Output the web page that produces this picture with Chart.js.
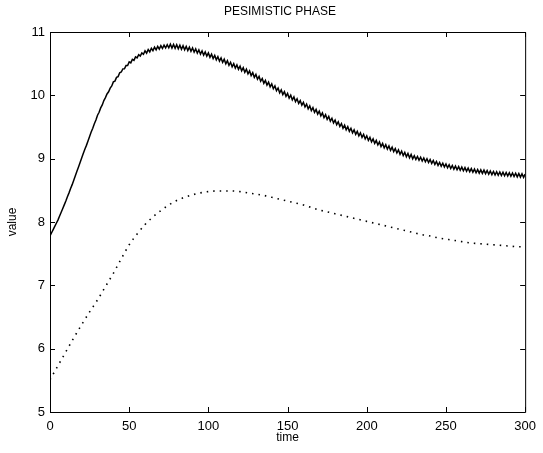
<!DOCTYPE html>
<html>
<head>
<meta charset="utf-8">
<script src="https://cdn.jsdelivr.net/npm/chart.js@4/dist/chart.umd.min.js"></script>
<style>
  html, body { margin: 0; padding: 0; background: #fff; }
  canvas { display: block; }
</style>
</head>
<body>
<canvas id="chart" width="543" height="453"></canvas>
<script>
const titleText = 'PESIMISTIC PHASE';
const xTicks = [0, 50, 100, 150, 200, 250, 300];
const yTicks = [5, 6, 7, 8, 9, 10, 11];

// solid curve, one reading per time unit (0..300)
const solidValue = [
  7.78, 7.83, 7.88, 7.93, 7.98, 8.03, 8.09, 8.15, 8.21, 8.27,
  8.33, 8.40, 8.46, 8.53, 8.59, 8.66, 8.73, 8.80, 8.87, 8.94,
  9.01, 9.08, 9.15, 9.21, 9.28, 9.35, 9.42, 9.48, 9.55, 9.61,
  9.686, 9.732, 9.802, 9.848, 9.918, 9.964, 10.022, 10.056, 10.114, 10.148,
  10.212, 10.224, 10.284, 10.296, 10.356, 10.368, 10.418, 10.420, 10.470, 10.472,
  10.528, 10.512, 10.568, 10.552, 10.608, 10.592, 10.642, 10.620, 10.670, 10.648,
  10.704, 10.666, 10.724, 10.686, 10.744, 10.706, 10.760, 10.718, 10.772, 10.730,
  10.784, 10.740, 10.792, 10.748, 10.800, 10.750, 10.808, 10.746, 10.804, 10.742,
  10.800, 10.736, 10.792, 10.728, 10.784, 10.720, 10.774, 10.708, 10.762, 10.696,
  10.750, 10.682, 10.734, 10.666, 10.718, 10.650, 10.702, 10.634, 10.686, 10.618,
  10.670, 10.600, 10.650, 10.580, 10.630, 10.560, 10.610, 10.540, 10.590, 10.520,
  10.570, 10.498, 10.546, 10.474, 10.522, 10.450, 10.500, 10.430, 10.480, 10.410,
  10.460, 10.388, 10.436, 10.364, 10.412, 10.340, 10.386, 10.312, 10.358, 10.284,
  10.330, 10.254, 10.298, 10.222, 10.266, 10.190, 10.236, 10.162, 10.208, 10.134,
  10.180, 10.104, 10.148, 10.072, 10.116, 10.040, 10.086, 10.012, 10.058, 9.984,
  10.030, 9.956, 10.002, 9.928, 9.974, 9.900, 9.946, 9.872, 9.918, 9.844,
  9.890, 9.816, 9.862, 9.788, 9.834, 9.760, 9.806, 9.732, 9.778, 9.704,
  9.750, 9.676, 9.722, 9.648, 9.694, 9.620, 9.666, 9.592, 9.638, 9.564,
  9.610, 9.536, 9.582, 9.508, 9.554, 9.480, 9.528, 9.456, 9.504, 9.432,
  9.480, 9.408, 9.456, 9.384, 9.432, 9.360, 9.408, 9.336, 9.384, 9.312,
  9.360, 9.288, 9.336, 9.264, 9.312, 9.240, 9.288, 9.216, 9.264, 9.192,
  9.240, 9.170, 9.220, 9.150, 9.200, 9.130, 9.180, 9.110, 9.160, 9.090,
  9.140, 9.070, 9.120, 9.050, 9.100, 9.030, 9.082, 9.014, 9.066, 8.998,
  9.047, 8.987, 9.035, 8.975, 9.023, 8.963, 9.011, 8.951, 8.999, 8.939,
  8.987, 8.925, 8.971, 8.909, 8.955, 8.893, 8.941, 8.881, 8.929, 8.869,
  8.917, 8.857, 8.905, 8.845, 8.893, 8.833, 8.883, 8.825, 8.875, 8.817,
  8.867, 8.809, 8.859, 8.801, 8.851, 8.793, 8.843, 8.785, 8.835, 8.777,
  8.827, 8.771, 8.823, 8.767, 8.819, 8.763, 8.813, 8.755, 8.805, 8.747,
  8.797, 8.741, 8.793, 8.737, 8.789, 8.733, 8.785, 8.729, 8.781, 8.725,
  8.777, 8.721, 8.773, 8.717, 8.769, 8.713, 8.765, 8.709, 8.761, 8.705,
  8.757
];
const solidTime = solidValue.map((v, i) => i);

const dottedTime = [
  0, 5, 10, 15, 20, 25, 30, 35, 40, 45,
  50, 55, 60, 65, 70, 75, 80, 85, 90, 95,
  100, 105, 110, 115, 120, 125, 130, 135, 140, 145,
  150, 155, 160, 165, 170, 175, 180, 185, 190, 195,
  200, 205, 210, 215, 220, 225, 230, 235, 240, 245,
  250, 255, 260, 265, 270, 275, 280, 285, 290, 295,
  300
];
const dottedValue = [
  5.51, 5.73, 5.95, 6.17, 6.38, 6.58, 6.77, 6.98, 7.19, 7.42,
  7.64, 7.81, 7.96, 8.08, 8.18, 8.27, 8.34, 8.39, 8.43, 8.46,
  8.48, 8.49, 8.49, 8.49, 8.48, 8.46, 8.44, 8.42, 8.39, 8.36,
  8.33, 8.30, 8.27, 8.23, 8.19, 8.16, 8.13, 8.10, 8.07, 8.04,
  8.01, 7.98, 7.95, 7.92, 7.89, 7.86, 7.83, 7.80, 7.78, 7.75,
  7.73, 7.71, 7.69, 7.67, 7.66, 7.65, 7.64, 7.63, 7.62, 7.61,
  7.61
];

const FONT = '"Liberation Sans", Arial, Helvetica, sans-serif';

// box round the plot plus inward tick marks on all four sides, matlab style
const boxTicks = {
  id: 'boxTicks',
  afterDraw(chart) {
    const { ctx, chartArea: a, scales } = chart;
    const len = 5;
    ctx.save();
    ctx.strokeStyle = '#000';
    ctx.lineWidth = 1;
    ctx.beginPath();
    ctx.rect(a.left + 0.5, a.top + 0.5, a.right - a.left, a.bottom - a.top);
    xTicks.forEach(t => {
      const px = Math.round(scales.x.getPixelForValue(t)) + 0.5;
      ctx.moveTo(px, a.bottom); ctx.lineTo(px, a.bottom - len);
      ctx.moveTo(px, a.top); ctx.lineTo(px, a.top + len);
    });
    yTicks.forEach(v => {
      const py = Math.round(scales.y.getPixelForValue(v)) + 0.5;
      ctx.moveTo(a.left, py); ctx.lineTo(a.left + len, py);
      ctx.moveTo(a.right, py); ctx.lineTo(a.right - len, py);
    });
    ctx.stroke();

    ctx.fillStyle = '#000';
    ctx.font = '12px ' + FONT;
    ctx.textAlign = 'center';
    ctx.textBaseline = 'middle';
    ctx.fillText(titleText, 280, 12);
    ctx.restore();
  }
};

new Chart(document.getElementById('chart'), {
  type: 'line',
  data: {
    datasets: [
      {
        data: solidTime.map((t, i) => ({ x: t, y: solidValue[i] })),
        borderColor: '#000',
        borderWidth: 1.5,
        pointRadius: 0,
        tension: 0
      },
      {
        data: dottedTime.map((t, i) => ({ x: t, y: dottedValue[i] })),
        borderColor: '#000',
        borderWidth: 1.6,
        borderDash: [1.5, 5],
        pointRadius: 0,
        cubicInterpolationMode: 'monotone'
      }
    ]
  },
  options: {
    responsive: false,
    animation: false,
    devicePixelRatio: 1,
    layout: { padding: { top: 32, right: 13, left: 0, bottom: 0 } },
    plugins: {
      legend: { display: false },
      tooltip: { enabled: false }
    },
    scales: {
      x: {
        type: 'linear',
        min: 0,
        max: 300,
        afterBuildTicks: axis => { axis.ticks = xTicks.map(v => ({ value: v })); },
        afterFit: axis => { axis.height = 41; },
        grid: { display: false, drawTicks: false },
        border: { display: false },
        ticks: { color: '#000', padding: 7, maxRotation: 0, font: { family: FONT, size: 13 } },
        title: { display: true, text: 'time', color: '#000', padding: { top: 0, bottom: 8 }, font: { family: FONT, size: 12 } }
      },
      y: {
        min: 5,
        max: 11,
        afterBuildTicks: axis => { axis.ticks = yTicks.map(v => ({ value: v })); },
        afterFit: axis => { axis.width = 50; },
        grid: { display: false, drawTicks: false },
        border: { display: false },
        ticks: { color: '#000', padding: 5, font: { family: FONT, size: 13 } },
        title: { display: true, text: 'value', color: '#000', padding: { top: 5, bottom: 0 }, font: { family: FONT, size: 12 } }
      }
    }
  },
  plugins: [boxTicks]
});
</script>
</body>
</html>
